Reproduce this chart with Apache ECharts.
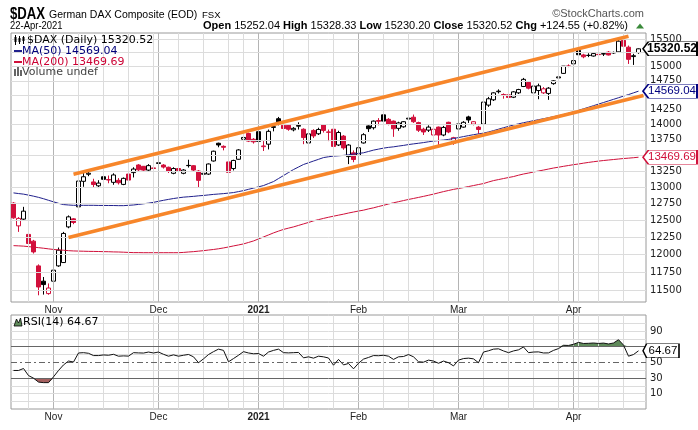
<!DOCTYPE html>
<html>
<head>
<meta charset="utf-8">
<title>$DAX</title>
<script src="https://cdn.jsdelivr.net/npm/echarts@6.0.0/dist/echarts.min.js"></script>
<style>
html,body{margin:0;padding:0;background:#fff;}
#chart{width:698px;height:430px;}
</style>
</head>
<body>
<div id="chart"></div>
<script>
// ---------------- DATA ----------------
const symbolName = '$DAX';
const seriesTitle = 'German DAX Composite (EOD)';
const exchange = 'FSX';
const priorClose = 12736;

const dates = [
 '2020-10-21','2020-10-22','2020-10-23','2020-10-26','2020-10-27','2020-10-28','2020-10-29','2020-10-30',
 '2020-11-02','2020-11-03','2020-11-04','2020-11-05','2020-11-06','2020-11-09','2020-11-10','2020-11-11','2020-11-12','2020-11-13','2020-11-16','2020-11-17','2020-11-18','2020-11-19','2020-11-20','2020-11-23','2020-11-24','2020-11-25','2020-11-26','2020-11-27','2020-11-30',
 '2020-12-01','2020-12-02','2020-12-03','2020-12-04','2020-12-07','2020-12-08','2020-12-09','2020-12-10','2020-12-11','2020-12-14','2020-12-15','2020-12-16','2020-12-17','2020-12-18','2020-12-21','2020-12-22','2020-12-23','2020-12-28','2020-12-29','2020-12-30',
 '2021-01-04','2021-01-05','2021-01-06','2021-01-07','2021-01-08','2021-01-11','2021-01-12','2021-01-13','2021-01-14','2021-01-15','2021-01-18','2021-01-19','2021-01-20','2021-01-21','2021-01-22','2021-01-25','2021-01-26','2021-01-27','2021-01-28','2021-01-29',
 '2021-02-01','2021-02-02','2021-02-03','2021-02-04','2021-02-05','2021-02-08','2021-02-09','2021-02-10','2021-02-11','2021-02-12','2021-02-15','2021-02-16','2021-02-17','2021-02-18','2021-02-19','2021-02-22','2021-02-23','2021-02-24','2021-02-25','2021-02-26',
 '2021-03-01','2021-03-02','2021-03-03','2021-03-04','2021-03-05','2021-03-08','2021-03-09','2021-03-10','2021-03-11','2021-03-12','2021-03-15','2021-03-16','2021-03-17','2021-03-18','2021-03-19','2021-03-22','2021-03-23','2021-03-24','2021-03-25','2021-03-26','2021-03-29','2021-03-30','2021-03-31',
 '2021-04-01','2021-04-06','2021-04-07','2021-04-08','2021-04-09','2021-04-12','2021-04-13','2021-04-14','2021-04-15','2021-04-16','2021-04-19','2021-04-20','2021-04-21','2021-04-22'
];
const padSlot = '2021-04-23';

const opens = [
 12755,12415,12515,12290,12192,11839,11626,11456,
 11626,11839,11886,12400,12519,12699,13090,13200,13080,13020,13161,13118,13074,13105,13042,13203,13226,13346,13325,13265,13300,
 13370,13345,13310,13215,13290,13215,13340,13335,13250,13200,13203,13410,13695,13645,13395,13290,13437,13760,13855,13760,
 13885,13640,13680,13955,14100,13990,13990,13915,13975,13925,13700,13905,13850,13995,13880,13925,13667,13812,13480,13540,
 13500,13700,13980,13950,14070,14165,14090,14060,13940,13965,14095,14125,14035,13925,13910,13830,13960,13830,14040,13695,
 13930,13960,14130,14010,13960,14010,14330,14420,14560,14510,14505,14465,14540,14650,14720,14540,14580,14540,14530,14700,14800,14880,15010,
 15050,15290,15210,15200,15190,15220,15225,15260,15245,15265,15475,15350,15180,15252.04
];
const highs = [
 12770,12545,12699,12377,12210,11860,11684,11595,
 11826,12100,12327,12570,12530,13282,13240,13235,13130,13107,13252,13180,13215,13140,13150,13282,13310,13360,13330,13360,13425,
 13400,13360,13320,13310,13300,13280,13430,13345,13265,13240,13370,13575,13705,13660,13420,13430,13600,13830,13870,13780,
 13920,13730,13920,14020,14130,14010,14000,13960,14040,13940,13870,13925,13950,14010,13920,13940,13900,13830,13680,13580,
 13650,13860,13990,14070,14110,14170,14110,14070,14050,14060,14135,14170,14050,13950,13990,13960,13970,13980,14050,13800,
 14030,14060,14150,14060,13980,14430,14470,14550,14600,14530,14520,14570,14610,14800,14730,14670,14700,14640,14640,14760,14840,15010,15040,
 15120,15310,15230,15240,15250,15250,15250,15280,15270,15501,15500,15380,15230,15328.33
];
const lows = [
 12520,12327,12500,12150,12014,11433,11442,11440,
 11524,11826,11880,12380,12440,12650,13005,13170,13000,12985,13042,13060,13036,13040,13030,13100,13150,13250,13250,13250,13240,
 13330,13290,13220,13200,13215,13200,13305,13240,13000,13170,13190,13400,13630,13580,13040,13260,13430,13740,13715,13690,
 13595,13570,13595,13890,13990,13860,13900,13890,13920,13680,13690,13780,13830,13870,13730,13620,13650,13590,13360,13390,
 13450,13690,13880,13920,13990,14040,13990,13800,13900,13950,14070,14030,13880,13830,13880,13820,13660,13810,13860,13670,
 13900,13950,14030,13990,13850,13990,14300,14400,14530,14440,14400,14450,14520,14640,14600,14500,14430,14520,14420,14680,14780,14870,14990,
 15040,15200,15150,15170,15180,15180,15190,15200,15230,15250,15340,15048,15030,15230.20
];
const closes = [
 12534,12526,12634,12158,12037,11546,11579,11532,
 11779,12062,12304,12549,12465,13094,13161,13216,13040,13062,13121,13110,13189,13068,13136,13109,13282,13270,13265,13336,13291,
 13382,13313,13252,13290,13260,13266,13336,13266,13105,13215,13362,13566,13667,13630,13230,13418,13587,13790,13730,13718,
 13726,13651,13890,13968,14050,13937,13925,13940,13988,13788,13848,13815,13921,13906,13874,13644,13871,13620,13666,13433,
 13622,13835,13934,14060,14057,14060,14012,13933,14030,14050,14109,14050,13909,13880,13960,13925,13830,13955,13880,13786,
 14012,14040,14080,14050,13921,14381,14438,14540,14569,14502,14461,14557,14597,14775,14621,14657,14662,14610,14621,14749,14818,15008.6,15008.3,
 15107,15213,15176,15203,15234,15215,15234,15209,15255,15460,15368,15130,15195.97,15320.52
];
const ma50 = [
 12911,12901,12892,12877,12861,12843,12822,12798,12775,12752,
 12733,12727,12722,12722,12722,12722,12722,12720,12720,12719,
 12719,12717,12717,12722,12727,12736,12745,12755,12767,12783,
 12798,12812,12825,12836,12846,12852,12858,12866,12872,12880,
 12888,12894,12900,12908,12916,12931,12946,12966,12985,13004,
 13024,13055,13086,13133,13180,13227,13274,13314,13354,13381,
 13409,13436,13464,13477,13488,13493,13499,13509,13520,13530,
 13541,13562,13584,13600,13616,13628,13637,13649,13660,13674,
 13685,13695,13706,13719,13731,13739,13747,13758,13772,13788,
 13804,13820,13835,13848,13861,13880,13902,13926,13950,13972,
 13995,14014,14033,14050,14067,14084,14100,14117,14134,14151,
 14170,14192,14216,14241,14267,14293,14320,14347,14374,14401,
 14428,14456,14484,14510,14540,14569.04
];
const ma200 = [
 12127,12124,12120,12113,12106,12098,12090,12081,12072,12067,
 12061,12055,12051,12049,12047,12045,12044,12043,12041,12040,
 12037,12036,12033,12030,12027,12027,12026,12026,12026,12026,
 12026,12026,12026,12026,12030,12036,12041,12048,12055,12064,
 12072,12082,12094,12108,12123,12137,12152,12173,12195,12224,
 12253,12282,12312,12338,12363,12382,12400,12422,12444,12466,
 12489,12508,12526,12543,12559,12574,12589,12606,12621,12636,
 12649,12668,12684,12704,12722,12742,12760,12777,12794,12811,
 12826,12842,12858,12875,12892,12912,12931,12948,12965,12979,
 12993,13009,13024,13040,13055,13079,13101,13117,13133,13149,
 13164,13185,13204,13219,13235,13251,13266,13282,13298,13311,
 13325,13338,13351,13362,13375,13387,13398,13408,13417,13425,
 13433,13441,13449,13455,13462,13469.69
];
const rsi14 = [
 39.6,39.6,42.1,33.1,29.8,24.8,24.1,24.1,31.5,39.6,
 46.7,51.6,50.4,61.9,62.3,61.5,58.6,58.6,59.4,59.0,
 60.2,57.8,58.2,57.9,62.3,62.0,61.8,63.1,61.9,63.1,
 60.2,57.8,59.5,57.8,59.0,60.0,57.0,49.5,54.4,59.9,
 63.6,66.8,65.2,50.7,54.8,59.0,63.6,61.9,60.9,61.2,
 57.8,63.1,65.2,66.8,62.3,62.0,62.3,62.6,55.7,57.0,
 55.3,57.8,57.0,55.5,46.3,53.7,46.7,48.5,41.7,48.8,
 54.1,56.2,58.6,58.4,59.0,57.8,53.7,57.0,57.4,59.9,
 57.0,50.7,50.2,52.8,51.6,48.8,51.6,49.5,45.4,52.8,
 54.8,55.3,54.4,49.5,63.1,64.7,66.8,67.2,64.5,62.3,
 64.5,65.9,69.5,62.3,63.1,63.3,61.9,62.0,65.2,67.5,
 71.7,71.5,73.0,75.4,74.0,74.2,74.6,74.0,74.5,73.4,
 74.6,78.8,72.0,57.8,59.9,64.67
];
const priceTicks = [11500,11750,12000,12250,12500,12750,13000,13250,13500,13750,14000,14250,14500,14750,15000,15250,15500];
const priceLabels = [11500,11750,12000,12250,12500,12750,13000,13250,13750,14000,14250,14750,15000,15500];
const rsiTicks = [0,10,20,30,40,50,60,70,80,90,100];
const rsiLabels = [10,30,50,90];
const overbought = 70, oversold = 30, rsiMid = 50;
const channelLines = [
  [['2020-11-06', 13200], ['2021-04-20', 15550]],
  [['2020-11-05', 12246], ['2021-04-23', 14495]]
];

// ---------------- STYLE / BUILD ----------------
const RED = '#d2103c', BLK = '#000000', NAVY = '#20208c', CRIM = '#d0103a', ORANGE = '#f7862a';
const MONTHS = ['Jan','Feb','Mar','Apr','May','Jun','Jul','Aug','Sep','Oct','Nov','Dec'];
const cats = dates.concat([padSlot]);
const dObj = s => new Date(s + 'T00:00:00Z');
const monthStarts = [], weekStarts = [];
for (let i = 1; i < dates.length; i++) {
  const a = dObj(dates[i-1]), b = dObj(dates[i]);
  if (a.getUTCMonth() !== b.getUTCMonth()) monthStarts.push(i);
  else if (b.getUTCDay() <= a.getUTCDay()) weekStarts.push(i);
}
const monthSet = new Set(monthStarts);
const last = dates.length - 1;
const fmt = v => v.toFixed(2);

const candleData = dates.map((d, i) => {
  const o = opens[i], c = closes[i], pc = i ? closes[i-1] : priorClose;
  const col = c < pc ? RED : BLK;
  const fill = c > o ? '#ffffff' : col;
  return { value: [o, c, lows[i], highs[i]],
    itemStyle: { color: fill, color0: fill, borderColor: col, borderColor0: col, borderColorDoji: col } };
});

const vLines = weekStarts.map(i => ({ xAxis: i, lineStyle: { color: '#dcdcdc', width: 1, type: 'solid' }, label: { show: false } }))
  .concat(monthStarts.map(i => ({ xAxis: i, lineStyle: { color: '#b4b4b4', width: 1, type: 'solid' }, label: { show: false } })));

const axisLabelFont = { color: '#222', fontSize: 10, fontFamily: 'DejaVu Sans' };
function gridMarkLine(hData) {
  return {
    silent: true, symbol: ['none', 'none'], animation: false,
    label: Object.assign({ show: true, position: 'end', distance: 4, formatter: p => String(p.value) }, axisLabelFont),
    emphasis: { disabled: true },
    data: vLines.concat(hData)
  };
}
const priceLines = priceTicks.map(v => ({ yAxis: v, lineStyle: { color: '#dcdcdc', width: 1, type: 'solid' }, label: { show: priceLabels.includes(v) } }));
const rsiLines = rsiTicks.map(v => {
  let ls = { color: '#dcdcdc', width: 1, type: 'solid' };
  if (v === overbought || v === oversold) ls = { color: '#666', width: 1, type: 'solid' };
  if (v === rsiMid) ls = { color: '#666', width: 1, type: [6, 3, 2, 3] };
  return { yAxis: v, lineStyle: ls, label: { show: rsiLabels.includes(v) } };
});

function badge(idx, value, w, border, color, bold) {
  return {
    silent: true, animation: false,
    symbol: 'path://M0,7 L6,0 L60,0 L60,14 L6,14 Z',
    symbolSize: [w, 14], symbolKeepAspect: false, symbolOffset: [w / 2 + 4.5, 0],
    itemStyle: { color: '#ffffff', borderColor: border, borderWidth: 1 },
    label: { show: true, position: 'inside', offset: [2, 0], formatter: () => fmt(value),
      color: color, fontSize: bold ? 12 : 11.5, fontFamily: 'Liberation Sans', fontWeight: bold ? 'bold' : 'normal' },
    data: [{ coord: [idx, value], value: value }]
  };
}

const xLabel = {
  show: true, margin: 3, interval: (i) => monthSet.has(i),
  formatter: (v) => { const d = dObj(v); return d.getUTCMonth() === 0 ? '{b|' + d.getUTCFullYear() + '}' : MONTHS[d.getUTCMonth()]; },
  color: '#222', fontSize: 10, fontFamily: 'Liberation Sans',
  rich: { b: { fontWeight: 'bold', fontSize: 10, fontFamily: 'Liberation Sans', color: '#222' } }
};

const lastDate = dObj(dates[last]);
const dateText = String(lastDate.getUTCDate()).padStart(2, '0') + '-' + MONTHS[lastDate.getUTCMonth()] + '-' + lastDate.getUTCFullYear();
const chg = closes[last] - closes[last - 1];
const pct = chg / closes[last - 1] * 100;
const statsText = '{b|Open} ' + fmt(opens[last]) + ' {b|High} ' + fmt(highs[last]) + ' {b|Low} ' + fmt(lows[last]) +
  ' {b|Close} ' + fmt(closes[last]) + ' {b|Chg} +' + fmt(chg) + ' (+' + fmt(pct) + '%)';

const LS = '"Liberation Sans"', DV = '"DejaVu Sans"';
const graphic = [
  { type: 'text', z: 100, x: 10, y: 15, scaleX: 0.82, style: { text: symbolName, font: 'bold 16px ' + LS, fill: '#000', textVerticalAlign: 'middle' } },
  { type: 'text', z: 100, x: 49, y: 15, style: { text: seriesTitle, font: '10.5px ' + LS, fill: '#000', textVerticalAlign: 'middle' } },
  { type: 'text', z: 100, x: 202, y: 15.5, style: { text: exchange, font: '9.5px ' + LS, fill: '#000', textVerticalAlign: 'middle' } },
  { type: 'text', z: 100, x: 644, y: 14, style: { text: '\u00A9StockCharts.com', font: '11px ' + LS, fill: '#555', textAlign: 'right', textVerticalAlign: 'middle' } },
  { type: 'text', z: 100, x: 10, y: 26, scaleX: 0.86, style: { text: dateText, font: '11px ' + LS, fill: '#000', textVerticalAlign: 'middle' } },
  { type: 'text', z: 100, x: 203, y: 26, style: { text: statsText, fontSize: 11, fontFamily: 'Liberation Sans', fill: '#000', textVerticalAlign: 'middle',
      rich: { b: { fontWeight: 'bold', fontSize: 11, fontFamily: 'Liberation Sans', fill: '#000' } } } },
  { type: 'polygon', z: 100, shape: { points: [[636, 28.5], [640, 23.5], [644, 28.5]] }, style: { fill: '#3a8a3a' } },
  // legend: price
  { type: 'line', z: 100, shape: { x1: 15.5, y1: 35, x2: 15.5, y2: 45 }, style: { stroke: '#000', lineWidth: 1 } },
  { type: 'rect', z: 100, shape: { x: 14.5, y: 37, width: 2, height: 5 }, style: { fill: '#000' } },
  { type: 'line', z: 100, shape: { x1: 19.5, y1: 36, x2: 19.5, y2: 44 }, style: { stroke: '#000', lineWidth: 1 } },
  { type: 'rect', z: 100, shape: { x: 18.5, y: 38, width: 2, height: 4 }, style: { fill: '#000' } },
  { type: 'line', z: 100, shape: { x1: 23.5, y1: 36, x2: 23.5, y2: 44 }, style: { stroke: '#000', lineWidth: 1 } },
  { type: 'rect', z: 100, shape: { x: 22.5, y: 37, width: 2, height: 4 }, style: { fill: '#000' } },
  { type: 'text', z: 100, x: 27, y: 40, style: { text: symbolName + ' (Daily) ' + fmt(closes[last]), font: '11px ' + DV, fill: '#000', textVerticalAlign: 'middle' } },
  { type: 'rect', z: 100, shape: { x: 14, y: 50, width: 8, height: 2 }, style: { fill: NAVY } },
  { type: 'text', z: 100, x: 22, y: 51, style: { text: 'MA(50) ' + fmt(ma50[last]), font: '11px ' + DV, fill: '#00007a', textVerticalAlign: 'middle' } },
  { type: 'rect', z: 100, shape: { x: 14, y: 61, width: 8, height: 2 }, style: { fill: CRIM } },
  { type: 'text', z: 100, x: 22, y: 62, style: { text: 'MA(200) ' + fmt(ma200[last]), font: '11px ' + DV, fill: '#cc0033', textVerticalAlign: 'middle' } },
  { type: 'rect', z: 100, shape: { x: 14, y: 69, width: 2, height: 7 }, style: { fill: '#666' } },
  { type: 'rect', z: 100, shape: { x: 17, y: 67, width: 2, height: 9 }, style: { fill: '#666' } },
  { type: 'rect', z: 100, shape: { x: 20, y: 70, width: 2, height: 6 }, style: { fill: '#666' } },
  { type: 'text', z: 100, x: 22, y: 72, style: { text: 'Volume undef', font: '11px ' + DV, fill: '#444', textVerticalAlign: 'middle' } },
  // RSI legend
  { type: 'polygon', z: 100, shape: { points: [[14, 326], [16.5, 319], [18.5, 323], [20.5, 318], [22, 326]] }, style: { fill: '#5f8a5a', stroke: '#000', lineWidth: 0.8 } },
  { type: 'text', z: 100, x: 23, y: 322, style: { text: 'RSI(14) ' + fmt(rsi14[last]), font: '11px ' + DV, fill: '#000', textVerticalAlign: 'middle' } }
];

const option = {
  animation: false,
  backgroundColor: '#ffffff',
  graphic: graphic,
  grid: [
    { left: 11, top: 33, width: 635, height: 269, show: true, borderColor: '#9a9a9a', borderWidth: 1, backgroundColor: '#fff' },
    { left: 11, top: 315, width: 635, height: 94, show: true, borderColor: '#9a9a9a', borderWidth: 1, backgroundColor: '#fff' }
  ],
  xAxis: [
    { type: 'category', gridIndex: 0, data: cats, boundaryGap: true, axisLine: { show: false }, axisTick: { show: false }, splitLine: { show: false }, axisLabel: xLabel },
    { type: 'category', gridIndex: 1, data: cats, boundaryGap: true, axisLine: { show: false }, axisTick: { show: false }, splitLine: { show: false }, axisLabel: xLabel }
  ],
  yAxis: [
    { type: 'log', logBase: 10, gridIndex: 0, min: 11342, max: 15611, position: 'right', show: false, splitLine: { show: false } },
    { type: 'value', gridIndex: 1, min: -9.5, max: 110.3, position: 'right', show: false, splitLine: { show: false } }
  ],
  series: [
    { type: 'line', name: 'gridMain', xAxisIndex: 0, yAxisIndex: 0, data: [], z: 1, silent: true, clip: false, markLine: gridMarkLine(priceLines) },
    { type: 'candlestick', name: symbolName, xAxisIndex: 0, yAxisIndex: 0, data: candleData, barWidth: 4.5, z: 3, clip: false,
      itemStyle: { borderWidth: 1 }, markPoint: badge(last, closes[last], 54, '#000', '#000', true) },
    { type: 'line', name: 'MA(200)', xAxisIndex: 0, yAxisIndex: 0, data: ma200, symbol: 'none', z: 4, clip: false,
      lineStyle: { color: CRIM, width: 1 }, markPoint: badge(last, ma200[last], 54, CRIM, CRIM, false) },
    { type: 'line', name: 'MA(50)', xAxisIndex: 0, yAxisIndex: 0, data: ma50, symbol: 'none', z: 4, clip: false,
      lineStyle: { color: NAVY, width: 1 }, markPoint: badge(last, ma50[last], 54, '#000080', '#000080', false) },
    { type: 'line', name: 'channel', xAxisIndex: 0, yAxisIndex: 0, data: [], z: 5, silent: true, clip: false,
      markLine: { silent: true, symbol: ['none', 'none'], animation: false, label: { show: false },
        lineStyle: { color: ORANGE, width: 3.5, type: 'solid' },
        data: channelLines.map(ln => [{ coord: [cats.indexOf(ln[0][0]), ln[0][1]] }, { coord: [cats.indexOf(ln[1][0]), ln[1][1]] }]) } },
    // RSI panel
    { type: 'line', name: 'gridRsi', xAxisIndex: 1, yAxisIndex: 1, data: [], z: 1, silent: true, clip: false, markLine: gridMarkLine(rsiLines) },
    { type: 'line', name: 'obBase', xAxisIndex: 1, yAxisIndex: 1, stack: 'ob', data: rsi14.map(() => overbought), symbol: 'none', lineStyle: { opacity: 0 }, z: 2, silent: true },
    { type: 'line', name: 'obFill', xAxisIndex: 1, yAxisIndex: 1, stack: 'ob', data: rsi14.map(v => Math.max(v - overbought, 0)), symbol: 'none', lineStyle: { opacity: 0 }, areaStyle: { color: '#5f8a5a', opacity: 1 }, z: 2, silent: true },
    { type: 'line', name: 'osBase', xAxisIndex: 1, yAxisIndex: 1, stack: 'os', data: rsi14.map(v => Math.min(v, oversold)), symbol: 'none', lineStyle: { opacity: 0 }, z: 2, silent: true },
    { type: 'line', name: 'osFill', xAxisIndex: 1, yAxisIndex: 1, stack: 'os', data: rsi14.map(v => oversold - Math.min(v, oversold)), symbol: 'none', lineStyle: { opacity: 0 }, areaStyle: { color: '#a5605f', opacity: 1 }, z: 2, silent: true },
    { type: 'line', name: 'RSI(14)', xAxisIndex: 1, yAxisIndex: 1, data: rsi14, symbol: 'none', z: 5, clip: false,
      lineStyle: { color: '#111', width: 1 }, markPoint: badge(last, rsi14[last], 36, '#000', '#000', false) }
  ]
};

const chart = echarts.init(document.getElementById('chart'), null, { renderer: 'canvas' });
chart.setOption(option);
</script>
</body>
</html>
